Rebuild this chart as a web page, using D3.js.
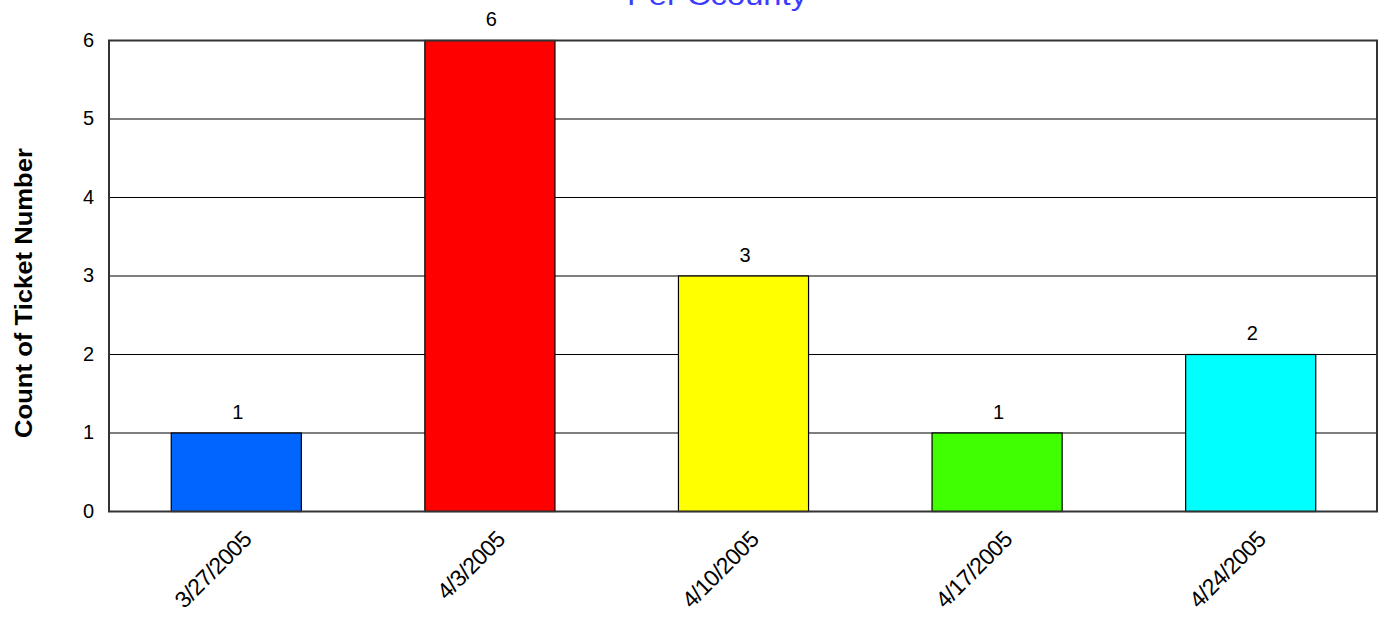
<!DOCTYPE html>
<html>
<head>
<meta charset="utf-8">
<script src="https://cdn.jsdelivr.net/npm/d3@7"></script>
<style>
html,body{margin:0;padding:0;background:#fff;}
svg{display:block;}
text{font-family:Arial,"Liberation Sans",sans-serif;}
</style>
</head>
<body>
<script>
const categories = ["3/27/2005","4/3/2005","4/10/2005","4/17/2005","4/24/2005"];
const values = [1, 6, 3, 1, 2];
const barColors = ["#0066ff","#ff0000","#ffff00","#40ff00","#00ffff"];
const yTicks = [0,1,2,3,4,5,6];
const titleText = "Per Ccounty";
const yTitle = "Count of Ticket Number";

const W = 1385, H = 619;
const m = {left:109, right:8, top:40, bottom:108};
const svg = d3.select("body").append("svg").attr("width",W).attr("height",H);

const x = d3.scaleBand().domain(categories)
  .range([m.left, W - m.right]).paddingInner(0.487).paddingOuter(0.2435);
const y = d3.scaleLinear().domain([0,6]).range([H - m.bottom, m.top]);

// title (partially cut off at top)
svg.append("text").attr("x", 717).attr("y", 5)
  .attr("text-anchor","middle").attr("fill","#3c3cff")
  .attr("font-size", 27).attr("textLength", 180).attr("lengthAdjust","spacingAndGlyphs")
  .text(titleText);

// gridlines
svg.append("g").selectAll("line").data(yTicks.filter(d=>d>0 && d<6)).join("line")
  .attr("x1", m.left).attr("x2", W - m.right)
  .attr("y1", d=>y(d)+0.5).attr("y2", d=>y(d)+0.5)
  .attr("stroke","#000").attr("stroke-width",1.2);

// y axis tick labels
const yAxis = d3.axisLeft(y).tickValues(yTicks).tickSize(0).tickPadding(15).tickFormat(d3.format("d"));
const gy = svg.append("g").attr("transform",`translate(${m.left},0)`).call(yAxis);
gy.select(".domain").remove();
gy.selectAll("text").attr("font-size",20).attr("fill","#000").attr("font-family","Arial, 'Liberation Sans', sans-serif");

// bars
svg.append("g").selectAll("rect").data(categories).join("rect")
  .attr("x", d=>x(d)+0.5).attr("width", x.bandwidth())
  .attr("y", (d,i)=>y(values[i])+0.5).attr("height",(d,i)=>y(0)-y(values[i]))
  .attr("fill",(d,i)=>barColors[i]).attr("stroke","#000").attr("stroke-width",1.2);

// value labels
svg.append("g").selectAll("text").data(categories).join("text")
  .attr("x", d=>x(d)+x.bandwidth()/2+2).attr("y",(d,i)=>y(values[i])-14)
  .attr("text-anchor","middle").attr("font-size",20).attr("fill","#000")
  .text((d,i)=>values[i]);

// frame
svg.append("rect").attr("x",m.left).attr("y",m.top+0.5)
  .attr("width",W-m.right-m.left).attr("height",y(0)-m.top)
  .attr("fill","none").attr("stroke","#333").attr("stroke-width",2);

// x axis labels rotated
const xAxis = d3.axisBottom(x).tickSize(0).tickPadding(0);
const gx = svg.append("g").attr("transform",`translate(0,${y(0)})`).call(xAxis);
gx.select(".domain").remove();
gx.selectAll("text")
  .attr("font-size",23).attr("fill","#000").attr("font-family","Arial, 'Liberation Sans', sans-serif")
  .attr("letter-spacing","-0.6")
  .attr("text-anchor","end").attr("dy",null).attr("y",0)
  .attr("transform","translate(17,30) rotate(-45)");

// y title
svg.append("text").attr("transform",`translate(32,293) rotate(-90)`)
  .attr("text-anchor","middle").attr("font-size",24).attr("font-weight","bold").attr("fill","#000")
  .attr("textLength",290).attr("lengthAdjust","spacingAndGlyphs")
  .text(yTitle);
</script>
</body>
</html>
